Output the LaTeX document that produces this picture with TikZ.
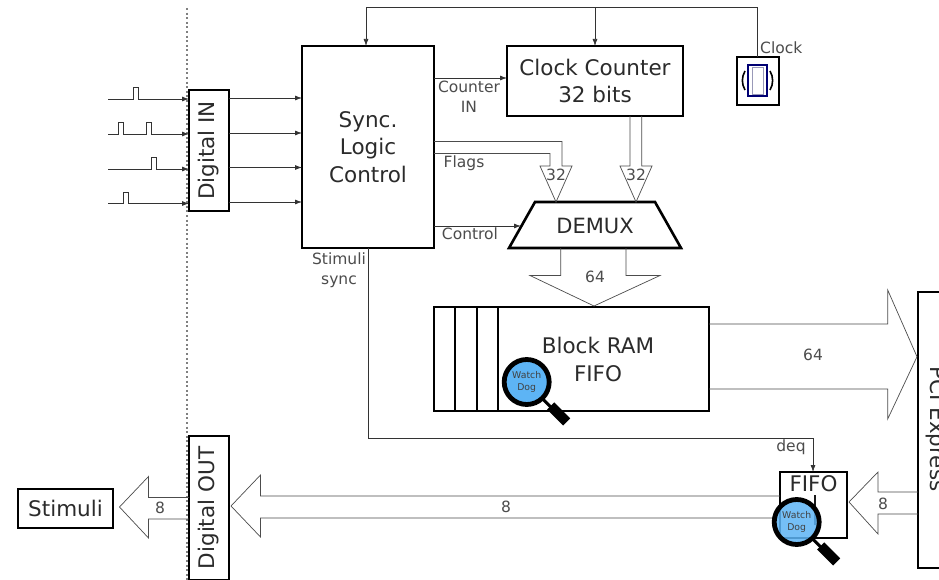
\documentclass[tikz,border=0pt]{standalone}
\usepackage{fontspec}
\setmainfont{DejaVu Sans}
\usetikzlibrary{arrows.meta}
\definecolor{ink}{HTML}{2B2B2B}
\definecolor{glass}{HTML}{5DB4F5}
\tikzset{
  x=1pt,y=-1pt,
  boxed/.style={draw=black,line width=2.6pt,fill=white,inner sep=0pt,outer sep=0pt,text=ink,font=\fontsize{21.5}{27.8}\selectfont,align=center},
  wire/.style={draw=black!80,line width=0.75pt},
  sig/.style={wire,-{Latex[length=7pt,width=5pt]}},
  bus/.style={draw=black!70,line width=0.7pt,line join=miter},
  lab/.style={text=black!70,font=\fontsize{15.5}{19.5}\selectfont,inner sep=0pt,align=center},
  wdlab/.style={text=black!75,font=\fontsize{9.3}{11.5}\selectfont,inner sep=0pt,align=center}
}
\newcommand{\magnifier}[4]{% name, cx, cy, opacity
  \draw[black,line width=3pt] (#2+14,#3+15) -- (#2+25,#3+26);
  \draw[black,line width=10pt] (#2+24,#3+24) -- (#2+40,#3+40);
  \node[circle,draw=black,line width=4.8pt,fill=glass,fill opacity=#4,draw opacity=1,minimum size=45pt,inner sep=0pt,outer sep=0pt] (#1) at (#2,#3) {};
  \node[wdlab] at (#1) {Watch\\Dog};
}
\begin{document}
\begin{tikzpicture}
\useasboundingbox (0,0) rectangle (939,580);
\fill[white] (0,0) rectangle (939,580);
% boundary
\draw[black!50,line width=2pt,dash pattern=on 2pt off 2.6pt] (187,8) -- (187,580);
% main nodes
\node[boxed,minimum width=132pt,minimum height=202pt] (sync) at (368,147) {Sync.\\Logic\\Control};
\node[boxed,minimum width=176pt,minimum height=70pt] (counter) at (595,81) {Clock Counter\\32 bits};
\node[boxed,minimum width=42pt,minimum height=48pt] (osc) at (758,81) {};
\node[boxed,minimum width=40pt,minimum height=121pt] (din) at (209,150.5) {\rotatebox{90}{Digital IN}};
\node[boxed,minimum width=40pt,minimum height=144pt] (dout) at (209,508) {\rotatebox{90}{Digital OUT}};
\node[boxed,minimum width=95pt,minimum height=39pt,font=\fontsize{21.5}{24}\selectfont] (stim) at (65.5,508.5) {Stimuli};
\node[boxed,line width=2pt,minimum width=275pt,minimum height=104pt] (ram) at (571.5,359) {};
\node[text=ink,font=\fontsize{21.5}{28}\selectfont,align=center,inner sep=0pt] (ramlab) at (598,359) {Block RAM\\FIFO};
\node[boxed,minimum width=60pt,minimum height=276pt] (pci) at (948,430) {};
\node[text=ink,font=\fontsize{21.5}{24}\selectfont,inner sep=0pt,rotate=-90] (pcilab) at (936,429) {PCI Express};
\node[boxed,line width=2pt,minimum width=67pt,minimum height=66pt] (fifo) at (813.5,505) {};
\node[text=ink,font=\fontsize{21.5}{24}\selectfont,inner sep=0pt] (fifolab) at (813.5,484) {FIFO};
\draw[boxed,line join=miter] (535,202) -- (655,202) -- (681,248) -- (509,248) -- cycle;
\coordinate (demuxN) at (595,202);
\coordinate (demuxS) at (595,248);
\coordinate (demuxW) at (521,226);
\node[text=ink,font=\fontsize{21}{24}\selectfont,inner sep=0pt] (demuxlab) at (595,226) {DEMUX};
% RAM cells
\draw[black,line width=2pt] (455,307) -- (455,411) (477,307) -- (477,411) (497.5,307) -- (497.5,411);
% oscillator
\draw[draw=blue!45!black,line width=1.2pt,fill=white] (748,65) rectangle (767,96);
\draw[draw=blue!30!black!40,line width=0.7pt] (752,67) rectangle (763,94);
\draw[black,line width=1.6pt] (745,71) .. controls (741.5,77) and (741.5,84) .. (745,90);
\draw[black,line width=1.6pt] (770,71) .. controls (773.5,77) and (773.5,84) .. (770,90);
% clock
\coordinate (clkL) at (366,7.5);
\coordinate (clkM) at (595,7.5);
\draw[wire] (osc.north -| 757,0) -- (757,7.5) -- (clkL);
\draw[sig] (clkL) -- (sync.north -| clkL);
\draw[sig] (clkM) -- (counter.north);
\node[lab,anchor=west] (clklab) at (760,48) {Clock};
% digital in pulses
\draw[wire] (108,99) -- (133,99) -- (133,87.5) -- (138,87.5) -- (138,99) -- (150,99);
\draw[sig] (150,99) -- (din.west |- 0,99);
\draw[wire] (108,134) -- (118,134) -- (118,122.5) -- (123,122.5) -- (123,134) -- (146,134) -- (146,122.5) -- (151,122.5) -- (151,134) -- (160,134);
\draw[sig] (160,134) -- (din.west |- 0,134);
\draw[wire] (108,169) -- (151.5,169) -- (151.5,157.5) -- (156.5,157.5) -- (156.5,169) -- (165,169);
\draw[sig] (165,169) -- (din.west |- 0,169);
\draw[wire] (108,203.5) -- (123.5,203.5) -- (123.5,192) -- (128.5,192) -- (128.5,203.5) -- (140,203.5);
\draw[sig] (140,203.5) -- (din.west |- 0,203.5);
\foreach \y in {98,133,167.5,202}{\draw[sig] (din.east |- 0,\y) -- (sync.west |- 0,\y);}
% control signals
\draw[sig] (sync.east |- 0,78) -- (counter.west |- 0,78);
\node[lab] (cntlab) at (469,96.5) {Counter\\IN};
\node[lab] (flagslab) at (464,163) {Flags};
\draw[sig] (sync.east |- 0,226) -- (demuxW);
\node[lab] (ctrllab) at (470,234) {Control};
% flag bus
\draw[bus] (sync.east |- 0,153.5) -- (550,153.5) -- (550,166) -- (540,166) -- (556,202) -- (572,166) -- (562,166) -- (562,141.5) -- (sync.east |- 0,141.5);
\node[lab] (b32a) at (556,174.5) {32};
% counter bus
\draw[bus] (630,116) -- (630,166) -- (620,166) -- (636,202) -- (652,166) -- (641.7,166) -- (641.7,116);
\node[lab] (b32b) at (636,174.5) {32};
% demux to RAM bus
\draw[bus] (560.7,248) -- (560.7,275.5) -- (530,275.5) -- (594,306) -- (660,275.5) -- (626,275.5) -- (626,248);
\node[lab] (b64a) at (595,277) {64};
% RAM to PCI
\draw[bus] (ram.east |- 0,324) -- (887.7,324) -- (887.7,290) -- (917,356.7) -- (887.7,419) -- (887.7,389) -- (ram.east |- 0,389);
\node[lab] (b64b) at (813,355) {64};
% stimuli sync / deq
\draw[wire] (368,248) -- (368,438) -- (813,438);
\draw[sig] (813,438) -- (fifo.north -| 813,0);
\node[lab] (synclab) at (339,270) {Stimuli\\sync};
\node[lab] (deqlab) at (791,447) {deq};
% FIFO to digital out
\draw[bus] (fifo.west |- 0,518) -- (260.5,518) -- (260.5,537) -- (231,506) -- (260.5,475) -- (260.5,496) -- (fifo.west |- 0,496);
\node[lab] (b8a) at (506,507) {8};
% PCI to FIFO
\draw[bus] (pci.west |- 0,492) -- (878,492) -- (878,472) -- (849,502) -- (878,534) -- (878,514) -- (pci.west |- 0,514);
\node[lab] (b8b) at (883,504) {8};
% digital out to stimuli
\draw[bus] (dout.west |- 0,497.5) -- (148.5,497.5) -- (148.5,476.5) -- (119.5,507) -- (148.5,538) -- (148.5,519) -- (dout.west |- 0,519);
\node[lab] (b8c) at (160,508) {8};
% magnifiers
\magnifier{wda}{526.7}{382}{1}
\draw[black!90,line width=1.4pt] (815,495) -- (815,525);
\magnifier{wdb}{796.7}{522}{0.85}
\end{tikzpicture}
\end{document}
